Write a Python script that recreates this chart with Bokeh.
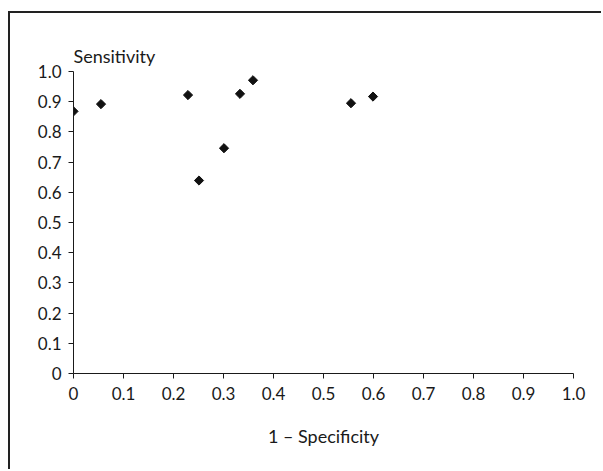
from bokeh.plotting import figure
from bokeh.models import FixedTicker, Range1d
from bokeh.embed import file_html
from bokeh.resources import INLINE
import math

# Data (1 - specificity, sensitivity)
fpr = [0.0, 0.055, 0.229, 0.251, 0.301, 0.333, 0.359, 0.555, 0.599]
sens = [0.868, 0.892, 0.922, 0.639, 0.746, 0.926, 0.971, 0.895, 0.917]

ticks = [0.0, 0.1, 0.2, 0.3, 0.4, 0.5, 0.6, 0.7, 0.8, 0.9, 1.0]
tick_labels = ["0", "0.1", "0.2", "0.3", "0.4", "0.5", "0.6", "0.7", "0.8", "0.9", "1.0"]

FONT = "Lato"
INK = "#1a1a1a"

p = figure(width=593, height=458, output_backend="svg", toolbar_location=None,
           x_range=Range1d(0, 1), y_range=Range1d(0, 1),
           min_border_left=63, min_border_right=30, min_border_top=58, min_border_bottom=98,
           title="Sensitivity")
p.margin = (11, 0, 0, 8)
p.styles = {"border-left": "2px solid #222", "border-top": "2px solid #222"}

p.title.align = "left"
p.title.text_font = FONT
p.title.text_font_size = "18px"
p.title.text_font_style = "normal"
p.title.text_color = INK
p.title.standoff = 9
p.title.offset = 0

p.outline_line_color = None
p.grid.visible = False
p.background_fill_color = "white"
p.border_fill_color = "white"

for ax in (p.xaxis[0], p.yaxis[0]):
    ax.ticker = FixedTicker(ticks=ticks)
    ax.major_label_overrides = {t: l for t, l in zip(ticks, tick_labels)}
    ax.minor_tick_line_color = None
    ax.major_tick_in = 0
    ax.major_tick_out = 5
    ax.axis_line_color = INK
    ax.major_tick_line_color = INK
    ax.major_label_text_font = FONT
    ax.major_label_text_font_size = "17px"
    ax.major_label_text_color = INK

p.yaxis.major_label_standoff = 7
p.xaxis.major_label_standoff = 8
p.xaxis.axis_label = "1 \u2013 Specificity"
p.xaxis.axis_label_text_font = FONT
p.xaxis.axis_label_text_font_size = "18px"
p.xaxis.axis_label_text_font_style = "normal"
p.xaxis.axis_label_text_color = INK
p.xaxis.axis_label_standoff = 22

p.scatter(fpr, sens, marker="square", angle=math.pi / 4, size=6.5,
          fill_color="#111111", line_color="#111111")

open("out.html", "w").write(file_html(p, INLINE))
